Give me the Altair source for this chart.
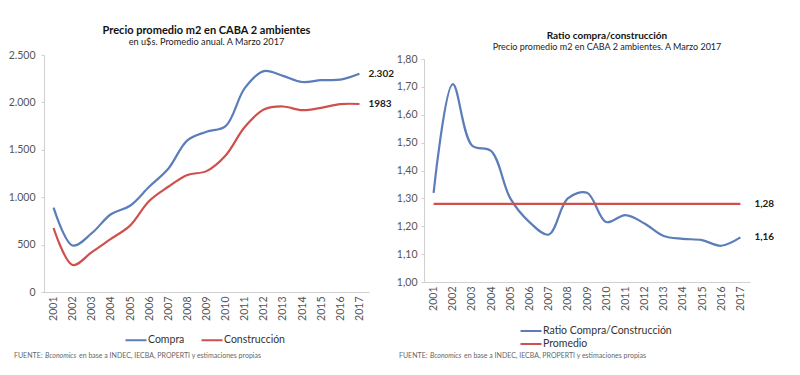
import altair as alt
import pandas as pd

years = [str(y) for y in range(2001, 2018)]
compra = [890, 490, 620, 820, 910, 1110, 1300, 1600, 1690, 1750, 2150, 2330, 2280, 2215, 2235, 2240, 2302]
construccion = [675, 285, 420, 560, 700, 960, 1110, 1235, 1275, 1440, 1740, 1925, 1957, 1918, 1943, 1982, 1983]
ratio = [1.32, 1.71, 1.49, 1.47, 1.30, 1.215, 1.17, 1.30, 1.32, 1.215, 1.24, 1.21, 1.165, 1.155, 1.15, 1.13, 1.16]
promedio = 1.28

left_series = ["Compra", "Construcción"]
right_series = ["Ratio Compra/Construcción", "Promedio"]
left_end_labels = ["2.302", "1983"]
right_end_labels = ["1,28", "1,16"]
left_ticks = [0, 500, 1000, 1500, 2000, 2500]
right_ticks = [1.0, 1.1, 1.2, 1.3, 1.4, 1.5, 1.6, 1.7, 1.8]
footnote = ["FUENTE:", "Bconomics", "en base a INDEC, IECBA, PROPERTI y estimaciones propias"]

BLUE = "#5b7db9"
RED = "#cf504c"
FONT = "Lato"
LABEL_C = "#555555"
AXIS_C = "#d0d0d0"
LINE_SYMBOL = "M-1.75,0L1.75,0"

left_df = pd.DataFrame({
    "year": years * 2,
    "value": compra + construccion,
    "series": [left_series[0]] * len(years) + [left_series[1]] * len(years),
})
right_df = pd.DataFrame({
    "year": years + [years[0], years[-1]],
    "value": ratio + [promedio, promedio],
    "series": [right_series[0]] * len(years) + [right_series[1]] * 2,
})
left_lab = pd.DataFrame({"year": [years[-1]] * 2, "value": [compra[-1], construccion[-1]], "label": left_end_labels})
right_lab = pd.DataFrame({"year": [years[-1]] * 2, "value": [promedio, ratio[-1]], "label": right_end_labels})


def xenc():
    return alt.X("year:O", scale=alt.Scale(type="point", padding=0.5),
                 axis=alt.Axis(title=None, labelAngle=270, ticks=False, domainColor=AXIS_C,
                               labelFontSize=10.5, labelColor=LABEL_C, labelFont=FONT,
                               labelPadding=4, labelBaseline="middle", labelAlign="right"))


def foot(x0, y0, xs):
    layers = []
    for txt, dx, style in zip(footnote, xs, ["normal", "italic", "normal"]):
        layers.append(
            alt.Chart(pd.DataFrame({"t": [txt]})).mark_text(
                align="left", baseline="middle", fontSize=7, font=FONT, color="#666666",
                fontStyle=style
            ).encode(x=alt.value(x0 + dx), y=alt.value(y0), text="t:N")
        )
    return layers


def legend(x, y, direction):
    return alt.Legend(title=None, orient="none", legendX=x, legendY=y, direction=direction,
                      symbolType=LINE_SYMBOL, symbolStrokeWidth=2, symbolSize=144,
                      labelFontSize=10.5, labelFont=FONT, labelColor="#333333",
                      columnPadding=12, rowPadding=0, labelOffset=5, padding=0)


# Left chart
ly = alt.Y("value:Q", scale=alt.Scale(domain=[0, 2500], nice=False),
           axis=alt.Axis(title=None, values=left_ticks, tickCount=len(left_ticks), grid=False,
                         labelExpr="replace(format(datum.value, ','), ',', '.')",
                         labelOverlap=False,
                         tickSize=3, tickColor=AXIS_C, domainColor=AXIS_C,
                         labelFontSize=10.5, labelColor=LABEL_C, labelFont=FONT, labelPadding=6))

left_lines = alt.Chart(left_df).mark_line(interpolate="catmull-rom", strokeWidth=2.2).encode(
    x=xenc(), y=ly,
    color=alt.Color("series:N", scale=alt.Scale(domain=left_series, range=[BLUE, RED]),
                    legend=legend(85, 278, "horizontal")),
)
left_text = alt.Chart(left_lab).mark_text(align="left", dx=9, fontSize=10, fontWeight="bold",
                                          font=FONT, color="#222222").encode(
    x=alt.X("year:O"), y=alt.Y("value:Q"), text="label:N")

left = alt.layer(left_lines, left_text, *foot(-30, 301, [0, 31, 65])).properties(
    width=325, height=237,
    title=alt.TitleParams(text="Precio promedio m2 en CABA 2 ambientes",
                          subtitle="en u$s. Promedio anual. A Marzo 2017",
                          fontSize=11, fontWeight="bold", font=FONT, color="#111111",
                          subtitleFontSize=9.2, subtitleFont=FONT, subtitleColor="#222222",
                          subtitlePadding=2, anchor="middle", offset=3),
)

# Right chart
ry = alt.Y("value:Q", scale=alt.Scale(domain=[1.0, 1.8], range=[227, 4], nice=False),
           axis=alt.Axis(title=None, values=right_ticks, tickCount=len(right_ticks), grid=False,
                         labelExpr="replace(format(datum.value, '.2f'), '.', ',')",
                         labelOverlap=False,
                         tickSize=3, tickColor=AXIS_C, domainColor=AXIS_C,
                         labelFontSize=10.5, labelColor=LABEL_C, labelFont=FONT, labelPadding=4))

right_lines = alt.Chart(right_df).mark_line(interpolate="catmull-rom", strokeWidth=2.2).encode(
    x=xenc(), y=ry,
    color=alt.Color("series:N", scale=alt.Scale(domain=right_series, range=[BLUE, RED]),
                    legend=legend(100, 269, "vertical")),
)
right_text = alt.Chart(right_lab).mark_text(align="left", dx=14, fontSize=10, fontWeight="bold",
                                            font=FONT, color="#222222").encode(
    x=alt.X("year:O"), y=alt.Y("value:Q"), text="label:N")

right = alt.layer(right_lines, right_text, *foot(-25, 301, [0, 31, 65])).properties(
    width=326, height=227,
    title=alt.TitleParams(text="Ratio compra/construcción",
                          subtitle="Precio promedio m2 en CABA 2 ambientes. A Marzo 2017",
                          fontSize=10, fontWeight="bold", font=FONT, color="#111111",
                          subtitleFontSize=9, subtitleFont=FONT, subtitleColor="#222222",
                          subtitlePadding=2, anchor="middle", offset=2, dx=20),
)

chart = alt.hconcat(left, right, spacing=55, bounds="flush").resolve_scale(
    color="independent", x="independent", y="independent"
).properties(
    padding={"left": 0, "top": 16, "right": 0, "bottom": 0}
).configure_view(stroke=None)

chart.save("out.html", embed_options={"renderer": "svg", "actions": False})
